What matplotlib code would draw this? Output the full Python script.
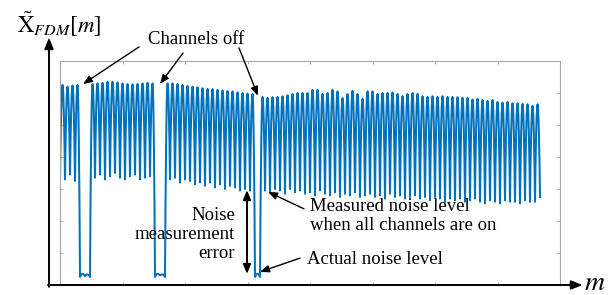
import numpy as np
import matplotlib
matplotlib.use("Agg")
import matplotlib.pyplot as plt

plt.rcParams['font.family'] = ['Liberation Serif', 'DejaVu Serif']
plt.rcParams['mathtext.fontset'] = 'stix'

# ---- data ----
# peak level of every channel (off channels sit at the noise floor)
peaks_seg1 = [6.25, 6.2, 6.23, 6.25]
peaks_off1 = [0.35, 0.33]
peaks_seg2 = [6.28, 6.3, 6.32, 6.35, 6.35, 6.33, 6.3, 6.28, 6.27, 6.28,
              6.3, 6.32, 6.3]
peaks_off2 = [0.35, 0.33]
peaks_seg3 = [6.3, 6.3, 6.28, 6.25, 6.22, 6.2, 6.18, 6.15, 6.13, 6.12,
              6.1, 6.08, 6.06, 6.05, 6.02, 6.0, 5.98, 5.97]
peaks_off3 = [0.35]
peaks_seg4 = [5.88, 5.85, 5.87, 5.88, 5.9, 5.93, 5.97, 6.0,
              6.0, 6.0, 6.1, 6.1, 5.97, 6.0, 6.1, 6.05, 5.84, 5.97, 6.07, 5.97,
              5.82, 6.05, 6.05, 5.97, 6.0, 6.0, 6.02, 5.97, 5.9, 5.97, 6.0, 5.97,
              5.9, 5.88, 5.9, 5.88, 5.9, 5.88, 5.88, 5.87, 5.85, 5.85, 5.8, 5.82,
              5.78, 5.75, 5.78, 5.72, 5.7, 5.72, 5.68, 5.68, 5.66, 5.65, 5.6, 5.65]
# trough level between neighbouring channels (len = channels + 1)
troughs_seg1 = [3.3, 3.3, 3.45, 3.25]
troughs_off1 = [0.25, 0.28, 0.25]
troughs_seg2 = [3.35, 3.45, 3.3, 3.4, 3.5, 3.35, 3.3, 3.4, 3.45, 3.3, 3.35, 3.4]
troughs_off2 = [0.25, 0.3, 0.25]
troughs_seg3 = [3.3, 3.35, 3.2, 3.3, 3.25, 3.15, 3.2, 3.1, 3.2, 3.05, 3.15,
                3.0, 3.1, 3.05, 2.95, 3.0, 2.95]
troughs_off3 = [0.25, 0.25]
troughs_seg4 = [2.95, 2.9, 3.0, 2.95, 2.85, 3.0, 2.9, 2.95, 2.85, 2.9,
                2.8, 2.95, 2.85, 2.8, 2.9, 2.75, 2.85, 2.8, 2.9, 2.75,
                2.8, 2.85, 2.75, 2.8, 2.7, 2.85, 2.75, 2.8, 2.7, 2.75,
                2.8, 2.7, 2.75, 2.65, 2.75, 2.7, 2.6, 2.7, 2.65, 2.7,
                2.6, 2.65, 2.7, 2.6, 2.55, 2.65, 2.6, 2.55, 2.65, 2.6,
                2.6, 2.55, 2.65, 2.6, 2.6, 2.75]
n_ticks_x = 8
n_ticks_y = 7
x_max = 100
y_max = 7

peak_levels = (peaks_seg1 + peaks_off1 + peaks_seg2 + peaks_off2 +
               peaks_seg3 + peaks_off3 + peaks_seg4)
trough_levels = (troughs_seg1 + troughs_off1 + troughs_seg2 + troughs_off2 +
                 troughs_seg3 + troughs_off3 + troughs_seg4)

# ---- build the waveform: one rounded pulse per channel ----
t = np.linspace(0, 1, 31)
shape = np.sin(np.pi * t) ** 0.85
xs, ys = [], []
for i, pk in enumerate(peak_levels):
    lo = np.where(t < 0.5, trough_levels[i], trough_levels[i + 1])
    xs.append(i + t)
    ys.append(lo + (pk - lo) * shape)
xs = np.concatenate(xs)
ys = np.concatenate(ys)

fig = plt.figure(figsize=(6.13, 2.95), dpi=100)
ax = fig.add_axes([60 / 613, 10 / 295, 500 / 613, 224 / 295])
ax.plot(xs, ys, color='#0072BD', lw=1.45)
ax.set_xlim(0, x_max)
ax.set_ylim(0, y_max)
ax.set_xticks(np.linspace(0, x_max, n_ticks_x + 1))
ax.set_yticks(np.linspace(0, y_max, n_ticks_y + 1))
ax.tick_params(direction='in', length=2.5, width=0.6, color='#a0a0a0',
               labelbottom=False, labelleft=False, top=True, right=True)
for s in ax.spines.values():
    s.set_color('#a8a8a8')
    s.set_linewidth(0.8)

# axis arrows
arr = dict(arrowstyle='-|>,head_length=0.55,head_width=0.22', color='black',
           lw=1.4, mutation_scale=12, shrinkA=0, shrinkB=0)
ax.annotate('', xy=(-0.022, 1.105), xytext=(-0.022, -0.008),
            xycoords='axes fraction', textcoords='axes fraction',
            arrowprops=arr, annotation_clip=False)
ax.annotate('', xy=(1.045, 0.0), xytext=(-0.024, 0.0),
            xycoords='axes fraction', textcoords='axes fraction',
            arrowprops=arr, annotation_clip=False)

ax.text(-0.086, 1.125, r'$\tilde{\mathrm{X}}_{FDM}[m]$', fontsize=16.5,
        transform=ax.transAxes, ha='left', va='baseline')
ax.text(1.048, -0.022, r'$m$', fontsize=20, transform=ax.transAxes,
        ha='left', va='baseline')

# annotations
fs = 13.5
aprops = dict(arrowstyle='-|>,head_length=0.5,head_width=0.2', color='black',
              lw=1.0, mutation_scale=11, shrinkA=0, shrinkB=0)
ax.text(27.2, 7.66, 'Channels off', fontsize=fs, ha='center', va='center',
        clip_on=False)
for (sx, sy), (ex, ey) in [((15.8, 7.44), (4.6, 6.28)),
                           ((24.6, 7.25), (20.0, 6.28)),
                           ((35.8, 7.41), (39.6, 5.91))]:
    ax.annotate('', xy=(ex, ey), xytext=(sx, sy), arrowprops=aprops,
                annotation_clip=False)

ax.annotate('', xy=(37.4, 0.34), xytext=(37.4, 2.97),
            arrowprops=dict(arrowstyle='<|-|>,head_length=0.5,head_width=0.2',
                            color='black', lw=1.4, mutation_scale=11,
                            shrinkA=0, shrinkB=0))
ax.text(35.0, 1.59, 'Noise\nmeasurement\nerror', fontsize=fs, ha='right',
        va='center', multialignment='right', linespacing=1.15)
ax.text(50.0, 2.16, 'Measured noise level\nwhen all channels are on',
        fontsize=fs, ha='left', va='center', linespacing=1.15)
ax.annotate('', xy=(41.6, 2.91), xytext=(48.8, 2.38), arrowprops=aprops)
ax.text(49.4, 0.81, 'Actual noise level', fontsize=fs, ha='left', va='center')
ax.annotate('', xy=(40.0, 0.41), xytext=(48.0, 0.84), arrowprops=aprops)

fig.savefig('out.png', dpi=100)
